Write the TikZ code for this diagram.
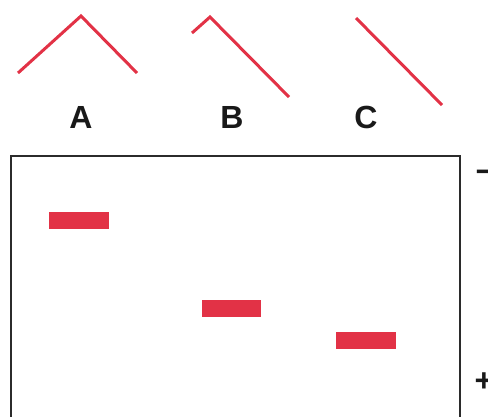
\documentclass[tikz,border=0pt]{standalone}
\usepackage{fontspec}
\setmainfont{Liberation Sans}
\definecolor{bandred}{HTML}{E23246}
\definecolor{framegray}{HTML}{2B2B2B}
\begin{document}
\begin{tikzpicture}[x=1pt,y=-1pt,
  trace/.style={draw=bandred,line width=3pt,line cap=butt,line join=miter},
  band/.style={fill=bandred,draw=none},
  lane/.style={font=\fontsize{32}{36}\selectfont\bfseries,text=black!90,inner sep=0pt},
  pole/.style={font=\fontsize{32}{36}\selectfont\bfseries,text=black!90,inner sep=0pt}]
\useasboundingbox (0,0) rectangle (488,416);
% patterns
\draw[trace] (18,73) -- (81,16) -- (137,73);
\draw[trace] (192,33) -- (210,17) -- (289,97);
\draw[trace] (356,18) -- (442,105);
% lane labels
\node[lane] (la) at (81,117) {A};
\node[lane] (lb) at (232,117) {B};
\node[lane] (lc) at (366,117) {C};
% gel frame
\draw[framegray,line width=2pt] (11,430) -- (11,156) -- (460,156) -- (460,430);
% bands
\fill[band] (49,212) rectangle (109,229);
\fill[band] (202,300) rectangle (261,317);
\fill[band] (336,332) rectangle (396,349);
% poles
\node[pole] (minus) at (485,176) {−};
\node[pole] (plus) at (484,382) {+};
\end{tikzpicture}
\end{document}
